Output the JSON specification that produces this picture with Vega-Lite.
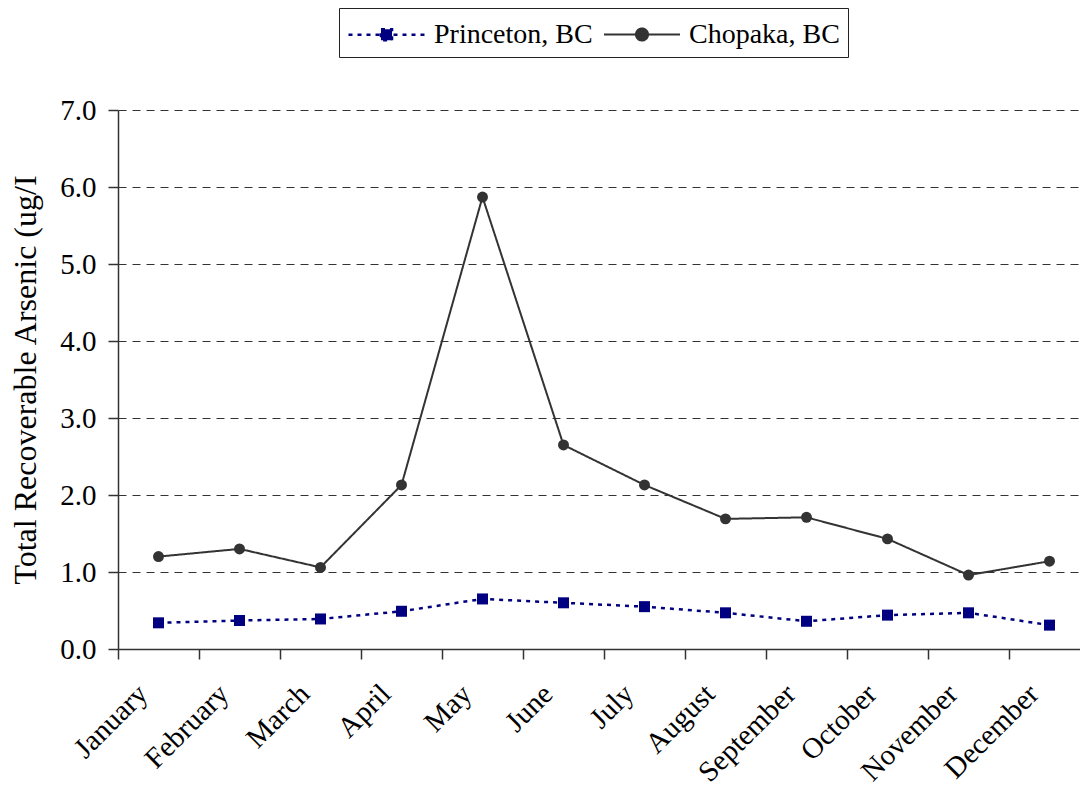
{
  "$schema": "https://vega.github.io/schema/vega-lite/v6.json",
  "autosize": {"type": "none"},
  "padding": {"left": 118, "top": 110, "right": 0, "bottom": 141},
  "width": 972,
  "height": 539,
  "background": "white",
  "config": {
    "view": {"stroke": null},
    "font": "Liberation Serif",
    "axis": {
      "labelFont": "Liberation Serif",
      "titleFont": "Liberation Serif",
      "labelColor": "black",
      "titleColor": "black",
      "domainColor": "#333333",
      "tickColor": "#333333",
      "domainWidth": 1.5,
      "tickWidth": 1.5,
      "tickSize": 10
    }
  },
  "data": {
    "values": [
      {"month": "January", "site": "Princeton, BC", "arsenic": 0.34},
      {"month": "February", "site": "Princeton, BC", "arsenic": 0.37},
      {"month": "March", "site": "Princeton, BC", "arsenic": 0.39},
      {"month": "April", "site": "Princeton, BC", "arsenic": 0.49},
      {"month": "May", "site": "Princeton, BC", "arsenic": 0.65},
      {"month": "June", "site": "Princeton, BC", "arsenic": 0.60},
      {"month": "July", "site": "Princeton, BC", "arsenic": 0.55},
      {"month": "August", "site": "Princeton, BC", "arsenic": 0.47},
      {"month": "September", "site": "Princeton, BC", "arsenic": 0.36},
      {"month": "October", "site": "Princeton, BC", "arsenic": 0.44},
      {"month": "November", "site": "Princeton, BC", "arsenic": 0.47},
      {"month": "December", "site": "Princeton, BC", "arsenic": 0.31},
      {"month": "January", "site": "Chopaka, BC", "arsenic": 1.20},
      {"month": "February", "site": "Chopaka, BC", "arsenic": 1.30},
      {"month": "March", "site": "Chopaka, BC", "arsenic": 1.06},
      {"month": "April", "site": "Chopaka, BC", "arsenic": 2.13},
      {"month": "May", "site": "Chopaka, BC", "arsenic": 5.87},
      {"month": "June", "site": "Chopaka, BC", "arsenic": 2.65},
      {"month": "July", "site": "Chopaka, BC", "arsenic": 2.13},
      {"month": "August", "site": "Chopaka, BC", "arsenic": 1.69},
      {"month": "September", "site": "Chopaka, BC", "arsenic": 1.71},
      {"month": "October", "site": "Chopaka, BC", "arsenic": 1.43},
      {"month": "November", "site": "Chopaka, BC", "arsenic": 0.96},
      {"month": "December", "site": "Chopaka, BC", "arsenic": 1.14}
    ]
  },
  "encoding": {
    "x": {
      "field": "month",
      "type": "ordinal",
      "sort": null,
      "scale": {"type": "band", "paddingInner": 0, "paddingOuter": 0},
      "axis": {
        "title": null,
        "labelAngle": -45,
        "labelAlign": "right",
        "labelBaseline": "middle",
        "labelFontSize": 29,
        "labelPadding": 30,
        "labelOffset": -16,
        "tickBand": "extent",
        "grid": false
      }
    },
    "y": {
      "field": "arsenic",
      "type": "quantitative",
      "scale": {"domain": [0, 7], "nice": false},
      "axis": {
        "title": "Total Recoverable Arsenic (ug/I",
        "titleFontSize": 32,
        "titleFontWeight": "normal",
        "titlePadding": 17,
        "labelFontSize": 29,
        "labelPadding": 12,
        "format": ".1f",
        "values": [0, 1, 2, 3, 4, 5, 6, 7],
        "grid": true,
        "gridColor": "#333333",
        "gridDash": [8, 6],
        "gridWidth": 1
      }
    },
    "color": {
      "field": "site",
      "type": "nominal",
      "scale": {"domain": ["Princeton, BC", "Chopaka, BC"], "range": ["#000080", "#333333"]},
      "legend": {
        "title": null,
        "orient": "none",
        "direction": "horizontal",
        "legendX": 221,
        "legendY": -102,
        "padding": 8,
        "strokeColor": "#222222",
        "fillColor": "white",
        "labelFont": "Liberation Serif",
        "labelFontSize": 28,
        "labelColor": "black",
        "labelOffset": 50,
        "columnPadding": 7,
        "symbolSize": 1156,
        "symbolStrokeWidth": 2,
        "symbolType": "M-1,0H3.47",
        "encode": {
          "symbols": {
            "update": {
              "shape": {"signal": "datum.value === 'Princeton, BC' ? 'M-1,0H3.47M0.91,-0.324H1.56V0.324H0.91Z' : 'M-1,0H3.47M0.88,0A0.353,0.353 0 1,0 1.59,0A0.353,0.353 0 1,0 0.88,0Z'"},
              "size": {"value": 1156},
              "strokeDash": {"signal": "datum.value === 'Princeton, BC' ? [4, 5] : [1, 0]"},
              "strokeWidth": {"signal": "datum.value === 'Princeton, BC' ? 2.5 : 2"},
              "fill": {"signal": "datum.value === 'Princeton, BC' ? '#000080' : '#333333'"},
              "stroke": {"signal": "datum.value === 'Princeton, BC' ? '#000080' : '#333333'"},
              "fillOpacity": {"value": 1},
              "strokeOpacity": {"value": 1}
            }
          }
        }
      }
    }
  },
  "layer": [
    {
      "mark": {"type": "line"},
      "encoding": {
        "strokeDash": {
          "field": "site",
          "type": "nominal",
          "scale": {"domain": ["Princeton, BC", "Chopaka, BC"], "range": [[4, 5], [1, 0]]},
          "legend": null
        },
        "strokeWidth": {
          "field": "site",
          "type": "nominal",
          "scale": {"domain": ["Princeton, BC", "Chopaka, BC"], "range": [2.5, 2]},
          "legend": null
        }
      }
    },
    {
      "transform": [{"filter": "datum.site === 'Princeton, BC'"}],
      "mark": {"type": "point", "filled": true, "opacity": 1, "size": 121, "shape": "square"}
    },
    {
      "transform": [{"filter": "datum.site === 'Chopaka, BC'"}],
      "mark": {"type": "point", "filled": true, "opacity": 1, "size": 120, "shape": "circle"}
    }
  ]
}
